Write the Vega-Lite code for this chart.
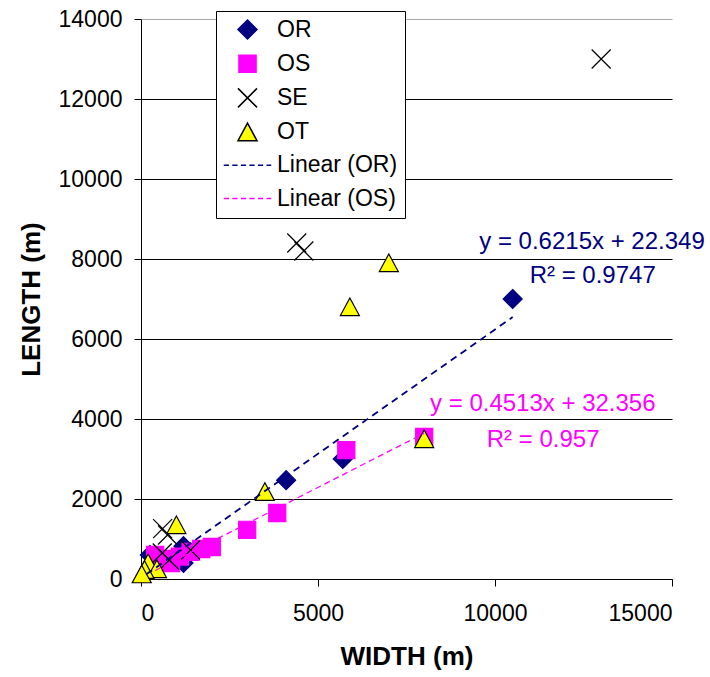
{
  "$schema": "https://vega.github.io/schema/vega-lite/v6.json",
  "width": 531,
  "height": 560,
  "autosize": {"type": "none"},
  "padding": {"left": 141, "top": 19, "right": 38, "bottom": 98},
  "background": "white",
  "datasets": {
    "points": [
      {"x": 10500, "y": 7000, "series": "OR"},
      {"x": 4100, "y": 2470, "series": "OR"},
      {"x": 5700, "y": 3000, "series": "OR"},
      {"x": 1200, "y": 820, "series": "OR"},
      {"x": 1200, "y": 400, "series": "OR"},
      {"x": 250, "y": 600, "series": "OR"},
      {"x": 8000, "y": 3550, "series": "OS"},
      {"x": 5800, "y": 3220, "series": "OS"},
      {"x": 3850, "y": 1650, "series": "OS"},
      {"x": 3000, "y": 1230, "series": "OS"},
      {"x": 2000, "y": 800, "series": "OS"},
      {"x": 1700, "y": 750, "series": "OS"},
      {"x": 1400, "y": 680, "series": "OS"},
      {"x": 1100, "y": 560, "series": "OS"},
      {"x": 850, "y": 400, "series": "OS"},
      {"x": 600, "y": 500, "series": "OS"},
      {"x": 400, "y": 600, "series": "OS"},
      {"x": 13000, "y": 13000, "series": "SE"},
      {"x": 4400, "y": 8400, "series": "SE"},
      {"x": 4600, "y": 8200, "series": "SE"},
      {"x": 610, "y": 1260, "series": "SE"},
      {"x": 750, "y": 1100, "series": "SE"},
      {"x": 1400, "y": 725, "series": "SE"},
      {"x": 800, "y": 475, "series": "SE"},
      {"x": 600, "y": 650, "series": "SE"},
      {"x": 7000, "y": 7900, "series": "OT"},
      {"x": 5900, "y": 6800, "series": "OT"},
      {"x": 8000, "y": 3500, "series": "OT"},
      {"x": 3500, "y": 2180, "series": "OT"},
      {"x": 1000, "y": 1350, "series": "OT"},
      {"x": 200, "y": 400, "series": "OT"},
      {"x": 450, "y": 250, "series": "OT"},
      {"x": 100, "y": 230, "series": "OT"},
      {"x": 20, "y": 120, "series": "OT"}
    ],
    "trendOR": [
      {"x": 150, "y": 116},
      {"x": 10500, "y": 6548}
    ],
    "trendOS": [
      {"x": 400, "y": 213},
      {"x": 8000, "y": 3643}
    ],
    "labelsOR": [
      {"x": 12740, "y": 8240, "text": "y = 0.6215x + 22.349"},
      {"x": 12760, "y": 7390, "text": "R² = 0.9747"}
    ],
    "labelsOS": [
      {"x": 11350, "y": 4210, "text": "y = 0.4513x + 32.356"},
      {"x": 11360, "y": 3310, "text": "R² = 0.957"}
    ]
  },
  "config": {
    "view": {"stroke": null},
    "font": "Liberation Sans",
    "axis": {
      "labelFont": "Liberation Sans",
      "labelFontSize": 23,
      "labelColor": "black",
      "titleFont": "Liberation Sans",
      "titleFontSize": 26,
      "titleFontWeight": "bold",
      "titleColor": "black",
      "tickColor": "black",
      "tickSize": 7,
      "domainColor": "black",
      "gridColor": "black",
      "gridOpacity": 1,
      "labelPadding": 12
    },
    "legend": {
      "labelFont": "Liberation Sans",
      "labelFontSize": 23,
      "labelColor": "black",
      "symbolSize": 361,
      "symbolStrokeWidth": 1.5,
      "symbolOffset": 13,
      "labelOffset": 18,
      "rowPadding": 9.2,
      "padding": 7,
      "strokeColor": "black",
      "fillColor": "white",
      "orient": "none",
      "legendX": 75,
      "legendY": -8
    }
  },
  "layer": [
    {
      "data": {"name": "points"},
      "mark": {"type": "point", "filled": true, "size": 361, "opacity": 1, "strokeWidth": 1.2},
      "encoding": {
        "x": {
          "field": "x", "type": "quantitative",
          "scale": {"domain": [0, 15000], "nice": false},
          "axis": {"title": "WIDTH (m)", "values": [0, 5000, 10000, 15000], "format": "d", "grid": false, "labelPadding": 16, "titlePadding": 18}
        },
        "y": {
          "field": "y", "type": "quantitative",
          "scale": {"domain": [0, 14000], "nice": false},
          "axis": {
            "title": "LENGTH (m)",
            "values": [0, 2000, 4000, 6000, 8000, 10000, 12000, 14000],
            "format": "d",
            "grid": true,
            "gridColor": {"condition": {"test": "datum.value === 14000", "value": "#aaaaaa"}, "value": "black"},
            "titlePadding": 14
          }
        },
        "shape": {
          "field": "series", "type": "nominal",
          "scale": {
            "domain": ["OR", "OS", "SE", "OT", "Linear (OR)", "Linear (OS)"],
            "range": [
              "M0,-1L1,0L0,1L-1,0Z",
              "M-0.9,-0.9L0.9,-0.9L0.9,0.9L-0.9,0.9Z",
              "M-1,-1L1,1M-1,1L1,-1",
              "M0,-0.95L1,0.9L-1,0.9Z",
              "M-2.5,0L-1.95,0M-1.6,0L-1.05,0M-0.7,0L-0.15,0M0.2,0L0.75,0M1.1,0L1.65,0M2,0L2.5,0",
              "M-2.5,0L-1.95,0M-1.6,0L-1.05,0M-0.7,0L-0.15,0M0.2,0L0.75,0M1.1,0L1.65,0M2,0L2.5,0"
            ]
          },
          "legend": {"title": null}
        },
        "fill": {
          "field": "series", "type": "nominal",
          "scale": {
            "domain": ["OR", "OS", "SE", "OT", "Linear (OR)", "Linear (OS)"],
            "range": ["#000080", "#FF00FF", "transparent", "#FFFF00", "transparent", "transparent"]
          },
          "legend": {"title": null}
        },
        "stroke": {
          "field": "series", "type": "nominal",
          "scale": {
            "domain": ["OR", "OS", "SE", "OT", "Linear (OR)", "Linear (OS)"],
            "range": ["#000080", "#FF00FF", "#000000", "#000000", "#000080", "#FF00FF"]
          },
          "legend": {"title": null}
        }
      }
    },
    {
      "data": {"name": "trendOR"},
      "mark": {"type": "line", "color": "#000080", "strokeWidth": 1.8, "strokeDash": [7, 5]},
      "encoding": {
        "x": {"field": "x", "type": "quantitative"},
        "y": {"field": "y", "type": "quantitative"}
      }
    },
    {
      "data": {"name": "trendOS"},
      "mark": {"type": "line", "color": "#FF00FF", "strokeWidth": 1.3, "strokeDash": [6, 4]},
      "encoding": {
        "x": {"field": "x", "type": "quantitative"},
        "y": {"field": "y", "type": "quantitative"}
      }
    },
    {
      "data": {"name": "labelsOR"},
      "mark": {"type": "text", "color": "#000080", "fontSize": 24, "font": "Liberation Sans", "align": "center", "baseline": "alphabetic"},
      "encoding": {
        "x": {"field": "x", "type": "quantitative"},
        "y": {"field": "y", "type": "quantitative"},
        "text": {"field": "text", "type": "nominal"}
      }
    },
    {
      "data": {"name": "labelsOS"},
      "mark": {"type": "text", "color": "#FF00FF", "fontSize": 24, "font": "Liberation Sans", "align": "center", "baseline": "alphabetic"},
      "encoding": {
        "x": {"field": "x", "type": "quantitative"},
        "y": {"field": "y", "type": "quantitative"},
        "text": {"field": "text", "type": "nominal"}
      }
    }
  ]
}
